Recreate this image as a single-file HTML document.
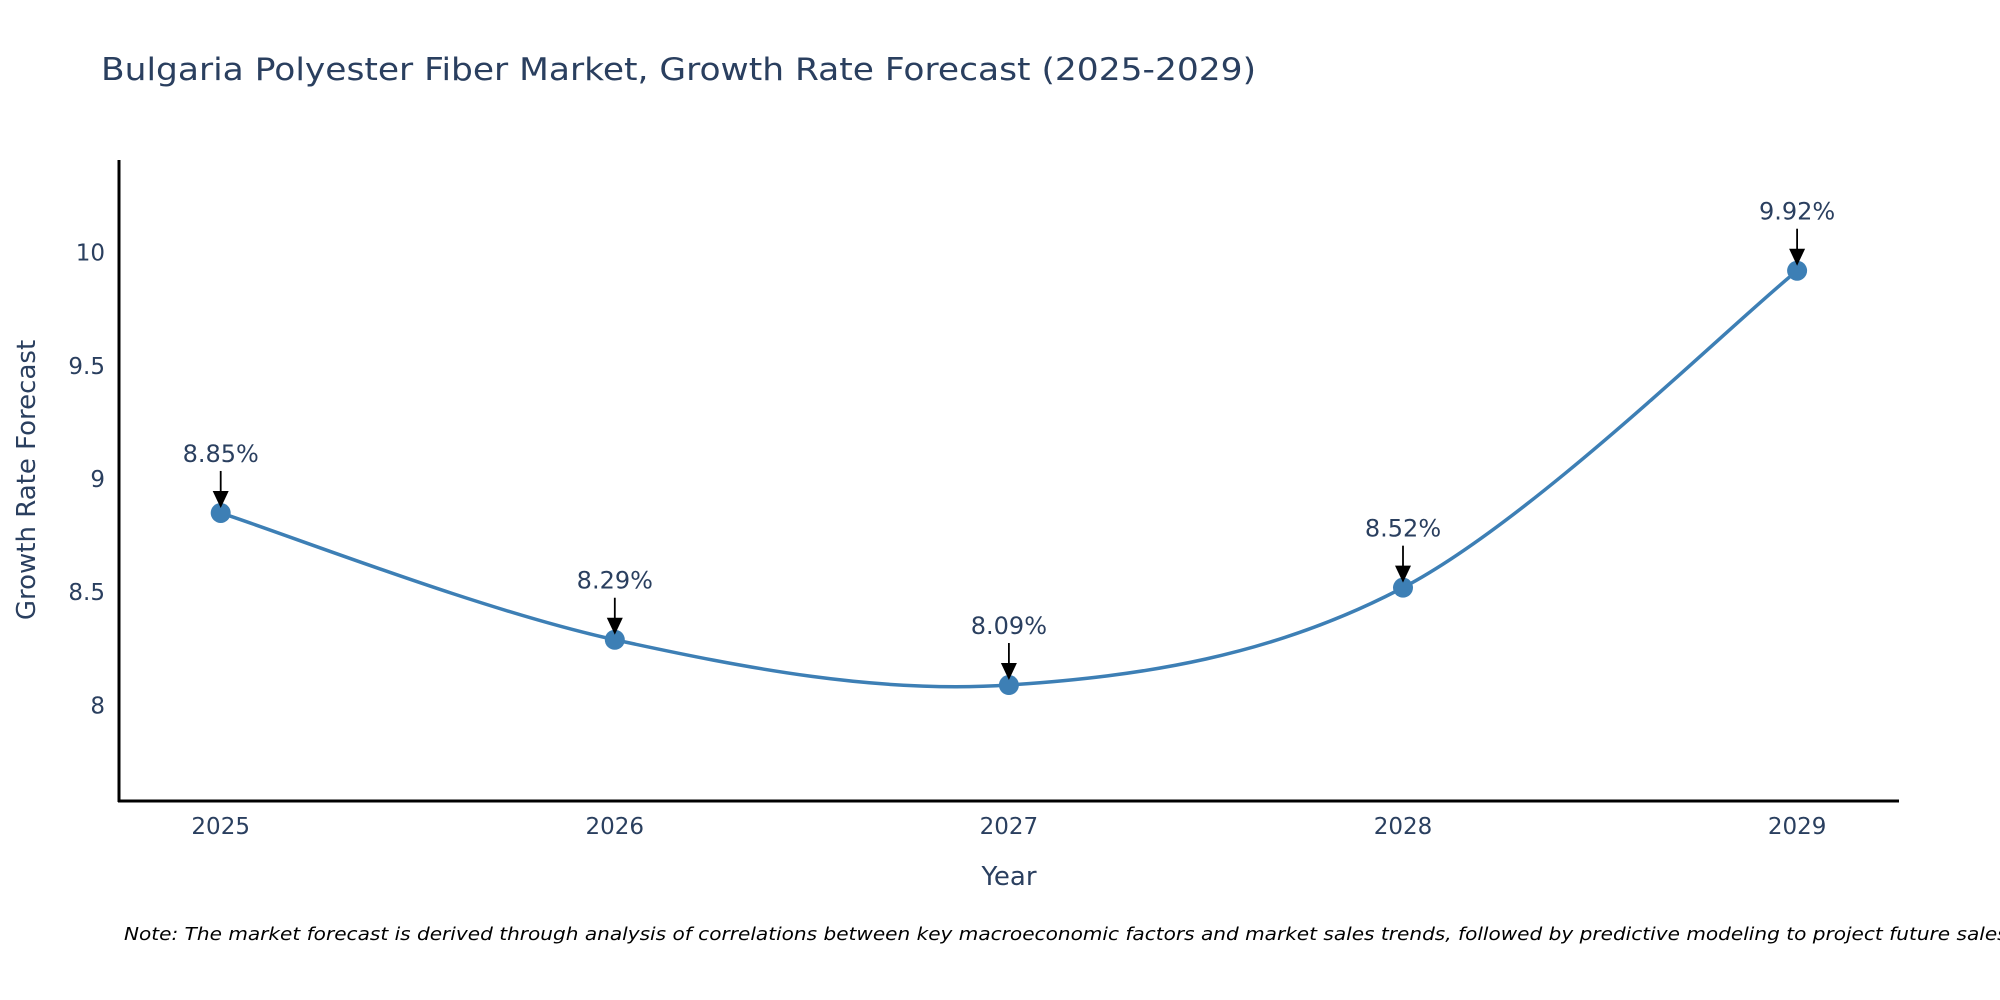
<!DOCTYPE html>
<html><head><meta charset="utf-8"><style>
html,body{margin:0;padding:0;background:#fff;}
svg{display:block;font-family:"DejaVu Sans","Liberation Sans",sans-serif;}
</style></head><body>
<svg id="chart" width="2000" height="1000" viewBox="0 0 2000 1000" xmlns="http://www.w3.org/2000/svg">
<rect width="2000" height="1000" fill="#fff"/>
<text x="101" y="80" font-size="31" fill="#2a3f5f" textLength="1155" lengthAdjust="spacingAndGlyphs">Bulgaria Polyester Fiber Market, Growth Rate Forecast (2025-2029)</text>
<g id="yticks"></g>
<g id="xticks"></g>
<line x1="119" y1="160" x2="119" y2="802" stroke="#000" stroke-width="3"/>
<line x1="118" y1="801" x2="1899" y2="801" stroke="#000" stroke-width="3"/>
<text transform="translate(35,480) rotate(-90)" text-anchor="middle" font-size="26" fill="#2a3f5f">Growth Rate Forecast</text>
<text x="1009" y="885" text-anchor="middle" font-size="26" fill="#2a3f5f">Year</text>
<g id="series"></g>
<text x="124" y="940" font-size="18" font-style="italic" fill="#000" textLength="1890" lengthAdjust="spacingAndGlyphs">Note: The market forecast is derived through analysis of correlations between key macroeconomic factors and market sales trends, followed by predictive modeling to project future sales.</text>
</svg>
<script>
const years = [2025, 2026, 2027, 2028, 2029];
const values = [8.85, 8.29, 8.09, 8.52, 9.92];
const labels = ["8.85%", "8.29%", "8.09%", "8.52%", "9.92%"];
const yTicks = [8, 8.5, 9, 9.5, 10];
const yTickLabels = ["8", "8.5", "9", "9.5", "10"];

const NS = "http://www.w3.org/2000/svg";
function xs(v){ return 220.7 + (v - 2025) * 394.1; }
function ys(v){ return 705.4 - (v - 8) * 226.4; }
function mk(tag, attrs, parent){
  const e = document.createElementNS(NS, tag);
  for (const k in attrs) e.setAttribute(k, attrs[k]);
  parent.appendChild(e); return e;
}
const yg = document.getElementById('yticks');
yTicks.forEach((t,i)=>{
  const el = mk('text',{x:105,y:ys(t)+8,'text-anchor':'end','font-size':23,fill:'#2a3f5f'},yg);
  
  
  el.textContent = yTickLabels[i];
});
const xg = document.getElementById('xticks');
years.forEach(y=>{
  const el = mk('text',{x:xs(y),y:834,'text-anchor':'middle','font-size':23,fill:'#2a3f5f'},xg);
  
  
  el.textContent = String(y);
});
const sg = document.getElementById('series');
const pts = years.map((y,i)=>[xs(y), ys(values[i])]);
let d = `M${pts[0][0]},${pts[0][1]}`;
for (let i=0;i<pts.length-1;i++){
  const p0 = pts[Math.max(0,i-1)], p1 = pts[i], p2 = pts[i+1], p3 = pts[Math.min(pts.length-1,i+2)];
  const t = 1/6;
  const c1 = [p1[0]+(p2[0]-p0[0])*t, p1[1]+(p2[1]-p0[1])*t];
  const c2 = [p2[0]-(p3[0]-p1[0])*t, p2[1]-(p3[1]-p1[1])*t];
  d += ` C${c1[0]},${c1[1]} ${c2[0]},${c2[1]} ${p2[0]},${p2[1]}`;
}
const line = mk('path',{d:d,fill:'none',stroke:'#3d7fb5','stroke-width':3.5},sg);


pts.forEach((p,i)=>{
  const c = mk('circle',{cx:p[0],cy:p[1],r:10,fill:'#3d7fb5'},sg);
  
  
  const a = mk('line',{x1:p[0],y1:p[1]-42,x2:p[0],y2:p[1]-20,stroke:'#000','stroke-width':1.8},sg);
  
  
  const h = mk('polygon',{points:`${p[0]-8},${p[1]-22} ${p[0]+8},${p[1]-22} ${p[0]},${p[1]-5}`,fill:'#000'},sg);
  
  
  const tx = mk('text',{x:p[0],y:p[1]-51,'text-anchor':'middle','font-size':24,fill:'#2a3f5f'},sg);
  
  
  tx.textContent = labels[i];
});
</script>
</body></html>
